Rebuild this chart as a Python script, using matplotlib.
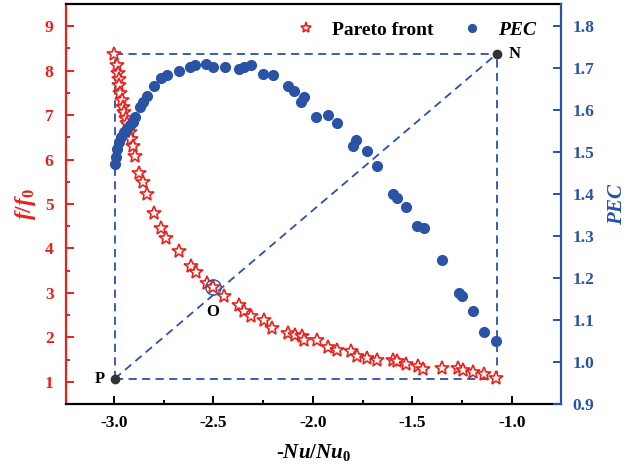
# Pareto front (f/f0) and PEC against -Nu/Nu0, two y axes
import matplotlib
matplotlib.use("Agg")

import numpy as np
import matplotlib.pyplot as plt
from matplotlib.ticker import MultipleLocator
from matplotlib import rcParams

rcParams["font.family"] = "Liberation Serif"
rcParams["font.weight"] = "bold"
rcParams["axes.unicode_minus"] = False
rcParams["mathtext.fontset"] = "custom"
rcParams["mathtext.rm"] = "Liberation Serif:bold"
rcParams["mathtext.it"] = "Liberation Serif:italic:bold"
rcParams["mathtext.bf"] = "Liberation Serif:bold"

RED = "#e8211c"
BLUE = "#2a52a5"

# Pareto front: -Nu/Nu0 and f/f0
pareto_x = [-3.00, -2.986, -2.980, -2.975, -2.975, -2.968, -2.961, -2.955, -2.950, -2.941,
            -2.933, -2.916, -2.911, -2.903, -2.891, -2.871, -2.852, -2.832, -2.799, -2.761,
            -2.737, -2.674, -2.612, -2.588, -2.531, -2.503, -2.444, -2.372, -2.344, -2.312,
            -2.247, -2.203, -2.124, -2.088, -2.054, -2.044, -1.979, -1.923, -1.879, -1.807,
            -1.780, -1.730, -1.675, -1.598, -1.577, -1.531, -1.471, -1.444, -1.351, -1.268,
            -1.246, -1.193, -1.139, -1.080]
pareto_f = [8.38, 8.13, 7.94, 7.81, 7.68, 7.49, 7.34, 7.19, 7.08, 6.93,
            6.82, 6.63, 6.46, 6.30, 6.08, 5.70, 5.49, 5.22, 4.80, 4.45,
            4.24, 3.95, 3.60, 3.47, 3.23, 3.14, 2.94, 2.73, 2.59, 2.47,
            2.38, 2.22, 2.10, 2.06, 2.02, 1.93, 1.94, 1.79, 1.71, 1.70,
            1.58, 1.53, 1.50, 1.49, 1.46, 1.39, 1.36, 1.29, 1.30, 1.30,
            1.26, 1.21, 1.17, 1.08]

# PEC of the same designs
pec_x = [-2.996, -2.991, -2.983, -2.975, -2.963, -2.950, -2.933, -2.916, -2.903, -2.891,
         -2.866, -2.852, -2.832, -2.799, -2.762, -2.732, -2.674, -2.615, -2.590, -2.535,
         -2.500, -2.443, -2.372, -2.347, -2.310, -2.250, -2.202, -2.126, -2.096, -2.046,
         -2.058, -1.982, -1.926, -1.878, -1.798, -1.782, -1.728, -1.675, -1.597, -1.577,
         -1.531, -1.474, -1.439, -1.351, -1.263, -1.248, -1.193, -1.138, -1.080]
pec_y = [1.472, 1.487, 1.507, 1.523, 1.535, 1.547, 1.555, 1.563, 1.570, 1.582,
         1.608, 1.618, 1.634, 1.658, 1.676, 1.684, 1.692, 1.703, 1.706, 1.709,
         1.703, 1.701, 1.698, 1.703, 1.707, 1.685, 1.682, 1.658, 1.644, 1.630,
         1.618, 1.582, 1.589, 1.569, 1.513, 1.528, 1.502, 1.466, 1.400, 1.391,
         1.370, 1.323, 1.320, 1.242, 1.165, 1.157, 1.121, 1.072, 1.050]

# reference points (left axis units)
P = (-2.995, 1.07)
N = (-1.075, 8.38)
O = (-2.503, 3.14)

fig = plt.figure(figsize=(6.28, 4.71), dpi=100)
ax = fig.add_axes([66 / 628, 67 / 471, 495 / 628, 400 / 471])
ax2 = ax.twinx()

# dashed guide box and diagonal
dash = dict(color=BLUE, lw=1.3, linestyle=(0, (4.5, 3)), zorder=1)
ax.plot([P[0], N[0]], [N[1], N[1]], **dash)
ax.plot([P[0], N[0]], [P[1], P[1]], **dash)
ax.plot([P[0], P[0]], [P[1], N[1]], **dash)
ax.plot([N[0], N[0]], [P[1], N[1]], **dash)
ax.plot([P[0], N[0]], [P[1], N[1]], **dash)

ax.plot(pareto_x, pareto_f, linestyle="none", marker="*", ms=10, mfc="white",
        mec=RED, mew=1.2, zorder=3, label="Pareto front")
ax.plot([O[0]], [O[1]], linestyle="none", marker="o", ms=11, mfc="none",
        mec=BLUE, mew=1.0, zorder=4)
ax.plot([P[0], N[0]], [P[1], N[1]], linestyle="none", marker="o", ms=6,
        color="#333333", zorder=4)

ax.text(P[0] - 0.075, P[1], "P", fontsize=12, fontweight="bold", ha="center", va="center")
ax.text(N[0] + 0.09, N[1], "N", fontsize=12, fontweight="bold", ha="center", va="center")
ax.text(O[0], O[1] - 0.58, "O", fontsize=12, fontweight="bold", ha="center", va="center")

ax2.plot(pec_x, pec_y, linestyle="none", marker="o", ms=7, color=BLUE, zorder=3,
         label="$PEC$")

ax.set_xlim(-3.24, -0.753)
ax.set_ylim(0.5, 9.5)
ax2.set_ylim(0.9, 1.852)

ax.xaxis.set_major_locator(MultipleLocator(0.5))
ax.xaxis.set_minor_locator(MultipleLocator(0.25))
ax.yaxis.set_major_locator(MultipleLocator(1))
ax.yaxis.set_minor_locator(MultipleLocator(0.5))
ax2.yaxis.set_major_locator(MultipleLocator(0.1))
ax.xaxis.set_major_formatter(plt.FormatStrFormatter("%.1f"))
ax2.yaxis.set_major_formatter(plt.FormatStrFormatter("%.1f"))

for s in ["top", "bottom"]:
    ax.spines[s].set_linewidth(1.6)
    ax.spines[s].set_color("black")
ax.spines["left"].set_color(RED)
ax.spines["left"].set_linewidth(1.6)
ax.spines["right"].set_visible(False)
for s in ["left", "top", "bottom"]:
    ax2.spines[s].set_visible(False)
ax2.spines["right"].set_color(BLUE)
ax2.spines["right"].set_linewidth(1.6)

ax.tick_params(axis="x", which="both", direction="in", top=False, colors="black",
               labelsize=12.5, width=1.4, pad=8)
ax.tick_params(axis="x", which="major", length=6)
ax.tick_params(axis="x", which="minor", length=3)
ax.tick_params(axis="y", which="both", direction="in", colors=RED, labelsize=12.5,
               width=1.4, pad=9)
ax.tick_params(axis="y", which="major", length=6)
ax.tick_params(axis="y", which="minor", length=3)
ax2.tick_params(axis="y", direction="in", colors=BLUE, labelsize=12.5, width=1.4,
                length=6, pad=8)

ax.set_xlabel("-$Nu/Nu_0$", fontsize=15, fontweight="bold", labelpad=8)
ax.set_ylabel("$f/f_0$", fontsize=17, color=RED, labelpad=5)
ax2.set_ylabel("$PEC$", fontsize=15, color=BLUE, labelpad=10)

h1, l1 = ax.get_legend_handles_labels()
h2, l2 = ax2.get_legend_handles_labels()
leg = ax2.legend(h1 + h2, l1 + l2, loc="center right", bbox_to_anchor=(0.99, 0.935),
                 ncol=2, frameon=False, fontsize=14, handletextpad=0.35,
                 columnspacing=1.0, markerscale=0.8)

fig.savefig("out.png", dpi=100)
